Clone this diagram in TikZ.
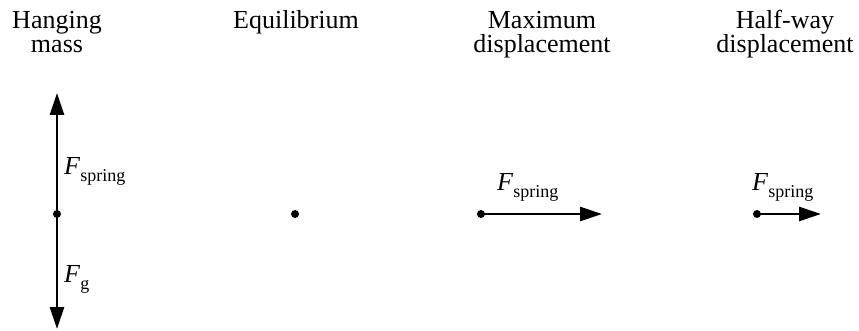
\documentclass[tikz,border=0pt]{standalone}
\usepackage{fontspec}
\setmainfont{Liberation Serif}
\usetikzlibrary{arrows.meta}
\newcommand{\Fsub}[1]{\textit{F}\raisebox{-7pt}{\fontsize{18}{18}\selectfont #1}}
\tikzset{
  title/.style={font=\fontsize{26}{24}\selectfont, align=center, anchor=base, inner sep=0pt},
  flabel/.style={font=\fontsize{26}{26}\selectfont, anchor=base west, inner sep=0pt},
  force/.style={line width=2.8pt, -{Triangle[length=22pt,width=14pt]}},
  masspt/.style={circle, fill=black, inner sep=0pt, minimum size=8pt},
}
\begin{document}
\begin{tikzpicture}[x=1pt,y=-1pt]
\useasboundingbox (0,0) rectangle (859,331);
% titles (base anchor = baseline of the last line)
\node[title] (t1) at (57,53) {Hanging\\mass};
\node[title] (t2) at (296,29) {Equilibrium};
\node[title] (t3) at (542,53) {Maximum\\displacement};
\node[title] (t4) at (785,53) {Half-way\\displacement};
% hanging mass
\node[masspt] (m1) at (57,214) {};
\coordinate (up) at (57,93);
\coordinate (down) at (57,329);
\draw[force] (m1.center) -- (up);
\draw[force] (m1.center) -- (down);
\node[flabel] (l1) at (64,175) {\Fsub{spring}};
\node[flabel] (l2) at (64,282) {\Fsub{g}};
% equilibrium
\node[masspt] (m2) at (295,214) {};
% maximum displacement
\node[masspt] (m3) at (481,214) {};
\coordinate (r3) at (602,214);
\draw[force] (m3.center) -- (r3);
\node[flabel] (l3) at (497,190) {\Fsub{spring}};
% half-way displacement
\node[masspt] (m4) at (757,214) {};
\coordinate (r4) at (821,214);
\draw[force] (m4.center) -- (r4);
\node[flabel] (l4) at (752,190) {\Fsub{spring}};
\end{tikzpicture}
\end{document}
